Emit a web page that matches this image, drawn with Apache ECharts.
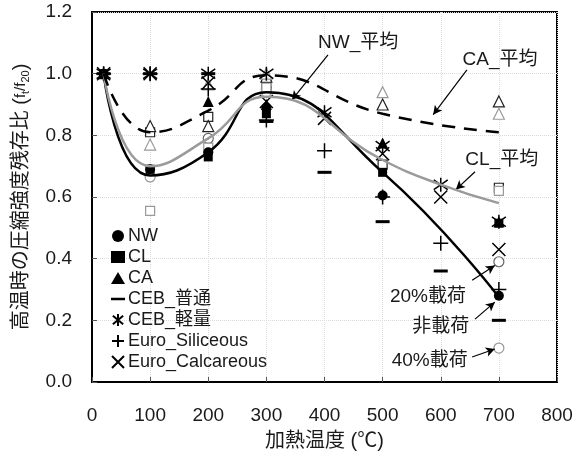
<!DOCTYPE html>
<html><head><meta charset="utf-8">
<script src="https://cdn.jsdelivr.net/npm/echarts@6/dist/echarts.min.js"></script>
<style>html,body{margin:0;padding:0;background:#fff}#c{width:576px;height:456px}</style>
</head><body><div id="c"></div>
<script>
// ---- data ----
const xTicks = [0,100,200,300,400,500,600,700,800];
const yTicks = [0,0.2,0.4,0.6,0.8,1.0,1.2];
const nwAvg = [[20,1.0],[100,0.67],[200,0.745],[300,0.94],[500,0.68],[700,0.275]];
const clAvg = [[20,1.0],[100,0.70],[200,0.79],[300,0.925],[500,0.72],[600,0.64],[700,0.58]];
const caAvg = [[20,1.0],[100,0.81],[200,0.88],[300,0.995],[500,0.87],[700,0.81]];
const nw   = [[20,1.0],[100,0.69],[200,0.745],[300,0.89],[500,0.605],[700,0.28]];
const nw20 = [[200,0.79],[300,0.95],[700,0.39]];
const nw40 = [[100,0.665],[300,0.94],[700,0.11]];
const cl   = [[20,1.0],[100,0.69],[200,0.73],[300,0.87],[500,0.68],[700,0.515]];
const cl20 = [[100,0.81],[200,0.86],[300,0.97],[500,0.705],[700,0.63]];
const cl40 = [[100,0.555],[200,0.76],[300,0.955],[700,0.62]];
const ca   = [[20,1.0],[200,0.91],[300,0.90],[500,0.775],[700,0.52]];
const ca20 = [[100,0.83],[200,0.83],[300,0.99],[500,0.90],[700,0.91]];
const ca40 = [[100,0.77],[200,0.965],[300,1.0],[500,0.94],[700,0.87]];
const cebNormal = [[20,1.0],[100,1.0],[200,1.0],[300,0.845],[400,0.68],[500,0.52],[600,0.36],[700,0.20]];
const cebLight  = [[20,1.0],[100,1.0],[200,1.0],[300,1.0],[400,0.875],[500,0.765],[600,0.64],[700,0.52]];
const euroSil   = [[20,1.0],[100,1.0],[200,0.95],[300,0.85],[400,0.75],[500,0.60],[600,0.45],[700,0.30]];
const euroCal   = [[20,1.0],[100,1.0],[200,0.97],[300,0.91],[400,0.855],[500,0.74],[600,0.60],[700,0.43]];
// annotations: [label, textPos, arrowFrom, arrowTo]
const notes = [
  ['NW_平均',[458,1.10],[406,1.061],[344,0.915]],
  ['CA_平均',[702,1.045],[645,1.012],[587,0.867]],
  ['CL_平均',[705,0.721],[659,0.682],[626,0.624]],
  ['20%載荷',[578,0.275],[654,0.33],[693,0.378]],
  ['非載荷',[600,0.178],[659,0.204],[693,0.259]],
  ['40%載荷',[581,0.068],[654,0.081],[693,0.107]]
];

const FONT = '"Liberation Sans", Arial, "Noto Sans CJK JP", sans-serif';
const PLUS = 'path://M5,0L5,10M0,5L10,5';
const CROSS = 'path://M0,0L10,10M10,0L0,10';
const AST = 'path://M5,0L5,10M0.7,1.5L9.3,8.5M9.3,1.5L0.7,8.5';
const DASH_ICON = 'path://M0,0h14v2.5h-14z';

function sc(name, data, symbol, size, fill, stroke, bw, z) {
  return {name, type:'scatter', data, symbol, symbolSize:size, z: z||3,
    itemStyle:{color:fill, borderColor:stroke, borderWidth:bw, opacity:1}, emphasis:{disabled:true}};
}
const GRAY = '#9a9a9a';
const series = [
  sc('NW_20', nw20, 'circle', 10, '#fff', '#666', 1.2),
  sc('NW_40', nw40, 'circle', 10, '#fff', GRAY, 1.2),
  sc('CL_20', cl20, 'rect', 9, '#fff', '#222', 1.2),
  sc('CL_40', cl40, 'rect', 9, '#fff', GRAY, 1.2),
  sc('CA_20', ca20, 'triangle', 11, '#fff', '#222', 1.2),
  sc('CA_40', ca40, 'triangle', 11, '#fff', GRAY, 1.2),
  sc('NW', nw, 'circle', 10, '#000', '#000', 0, 4),
  sc('CL', cl, 'rect', 9, '#000', '#000', 0, 4),
  sc('CA', ca, 'triangle', 11, '#000', '#000', 0, 4),
  sc('CEB_普通', cebNormal, 'rect', [14,3], '#000', '#000', 0, 4),
  sc('CEB_軽量', cebLight, AST, 14, '#000', '#000', 1.5, 4),
  sc('Euro_Siliceous', euroSil, PLUS, 15, '#000', '#000', 1.5, 4),
  sc('Euro_Calcareous', euroCal, CROSS, 13, '#000', '#000', 1.5, 4),
  {name:'nwAvg', type:'line', data:nwAvg, smooth:0.5, showSymbol:false, symbol:'none', z:5,
   lineStyle:{color:'#000', width:2.5}},
  {name:'clAvg', type:'line', data:clAvg, smooth:0.5, showSymbol:false, symbol:'none', z:5,
   lineStyle:{color:GRAY, width:2.5}},
  {name:'caAvg', type:'line', data:caAvg, smooth:0.5, showSymbol:false, symbol:'none', z:5,
   lineStyle:{color:'#000', width:2.5, type:[13,9]}},
  {name:'notes', type:'scatter', data:[], z:6, silent:true,
   markLine:{silent:true, symbol:['none','arrow'], symbolSize:[7,9], animation:false,
     lineStyle:{color:'#000', width:1.2, type:'solid'}, label:{show:false},
     data: notes.map(n=>[{coord:n[2]},{coord:n[3]}])},
   markPoint:{silent:true, symbol:'circle', symbolSize:1, animation:false,
     itemStyle:{color:'rgba(0,0,0,0)'},
     label:{show:true, position:'inside', color:'#1a1a1a', fontSize:19, fontFamily:FONT, formatter:p=>p.name},
     data: notes.map(n=>({name:n[0], coord:n[1]}))}}
];

const chart = echarts.init(document.getElementById('c'), null, {renderer:'canvas'});
chart.setOption({
  animation:false,
  backgroundColor:'#fff',
  textStyle:{fontFamily:FONT},
  grid:{left:92, right:19, top:12, bottom:73, show:true, borderColor:'#000', borderWidth:2, backgroundColor:'transparent'},
  legend:{orient:'vertical', left:106, top:222, itemWidth:14, itemHeight:12, itemGap:3,
    textStyle:{fontSize:18, color:'#1a1a1a', fontFamily:FONT, padding:[0,0,0,-2]},
    selectedMode:false,
    data:[{name:'NW'},{name:'CL'},{name:'CA'},{name:'CEB_普通', icon:DASH_ICON},
      {name:'CEB_軽量'},{name:'Euro_Siliceous'},{name:'Euro_Calcareous'}]},
  xAxis:{type:'value', min:xTicks[0], max:xTicks[xTicks.length-1], interval:100,
    name:'加熱温度 (℃)', nameLocation:'middle', nameGap:49,
    nameTextStyle:{fontSize:20, color:'#1a1a1a', fontFamily:FONT},
    axisLine:{show:true, lineStyle:{color:'#000', width:2}},
    axisTick:{show:true, inside:true, length:5, lineStyle:{color:'#555'}},
    axisLabel:{fontSize:19, color:'#1a1a1a', margin:24, fontFamily:FONT},
    splitLine:{show:true, lineStyle:{color:'#dcdcdc', type:'dotted', width:1}}},
  yAxis:{type:'value', min:yTicks[0], max:yTicks[yTicks.length-1], interval:0.2,
    name:'高温時の圧縮強度残存比 ({a|f}{s|t}{a|/f}{s|20})', nameLocation:'middle', nameGap:61, nameRotate:90,
    nameTextStyle:{fontSize:20, color:'#1a1a1a', fontFamily:FONT,
      rich:{a:{fontSize:15, color:'#1a1a1a', fontFamily:FONT}, s:{fontSize:11, color:'#1a1a1a', verticalAlign:'bottom', padding:[6,0,0,0], fontFamily:FONT}}},
    axisLine:{show:true, lineStyle:{color:'#000', width:2}},
    axisTick:{show:true, inside:true, length:5, lineStyle:{color:'#555'}},
    axisLabel:{fontSize:19, color:'#1a1a1a', margin:20, fontFamily:FONT, formatter:v=>v.toFixed(1)},
    splitLine:{show:true, lineStyle:{color:'#dcdcdc', type:'dotted', width:1}}},
  series
});
</script></body></html>
